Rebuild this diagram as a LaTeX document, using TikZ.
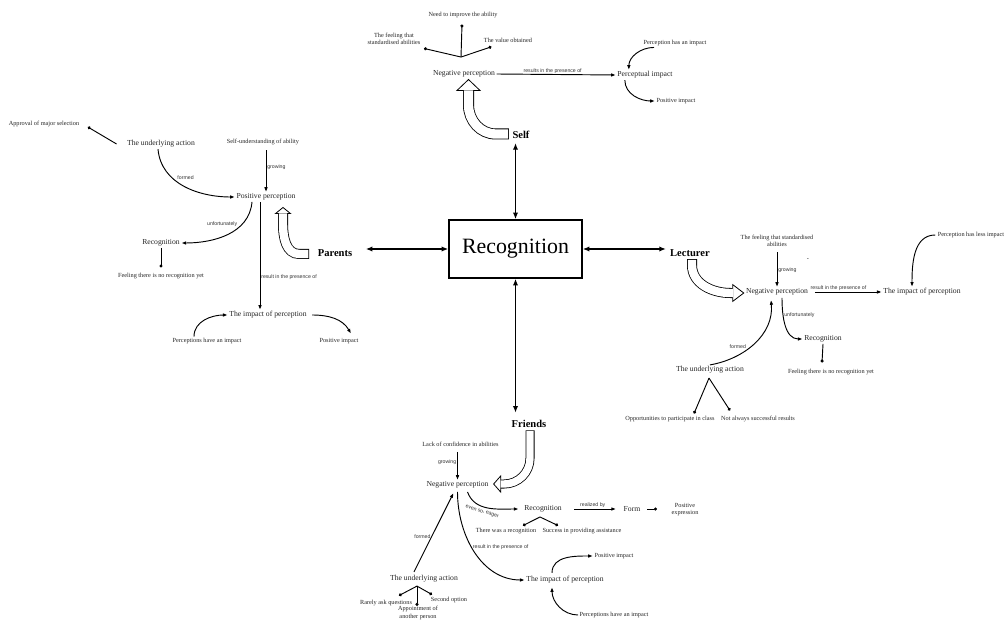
\documentclass[tikz,border=0pt]{standalone}
\usepackage{fontspec}
\setmainfont{Liberation Serif}
\newfontfamily\notefont{Liberation Sans}
\usetikzlibrary{arrows.meta,calc}

\begin{document}
\begin{tikzpicture}[x=0.75pt,y=-0.75pt,
  txt/.style={font=\fontsize{5.75}{6.6}\selectfont, inner sep=1pt, text=black!85},
  note/.style={font=\fontsize{4.7}{5.4}\selectfont, inner sep=1pt, align=center, text=black!85},
  tag/.style={font=\notefont\fontsize{3.9}{4.4}\selectfont, inner sep=0.6pt, text=black!80},
  hub/.style={font=\fontsize{7.9}{9}\selectfont\bfseries, inner sep=1pt},
  core/.style={draw, line width=1.1pt, minimum width=99.75pt, minimum height=43.5pt,
    font=\fontsize{16.4}{18}\selectfont, inner sep=0pt},
  link/.style={line width=0.7pt, -{Latex[length=3.6pt,width=2.7pt]}},
  dotlink/.style={line width=0.7pt, -{Circle[length=2.3pt]}},
  bond/.style={line width=1.1pt, {Latex[length=5pt,width=4pt]}-{Latex[length=5pt,width=4pt]}},
  % outlined block arrow: outer width, inner width, head length, head width, inner cut-back
  hollow/.style n args={5}{draw=black, line width=#1,
    -{Triangle[length=#3,width=#4,line width=0.6pt,fill=white]},
    postaction={draw=white, line width=#2, arrows=-, shorten <=0.6pt, shorten >=#5}},
]
\fill[white] (0,0) rectangle (1006,627);
\useasboundingbox (0,0) rectangle (1006,627);

% ---------- centre and the four sources ----------
\node[core] (core) at (515.5,249) {Recognition};
\node[hub] (selfh) at (521,135) {Self};
\node[hub] (parh) at (335,253) {Parents};
\node[hub] (lech) at (690,253) {Lecturer};
\node[hub] (frih) at (529,424) {Friends};

\draw[bond, shorten >=2pt] (core.north) -- (core.north |- selfh.south);
\draw[bond, shorten >=9pt] (core.west) -- (core.west -| parh.east);
\draw[bond, shorten >=2pt] (core.east) -- (core.east -| lech.west);
\draw[bond, shorten >=4.5pt] (core.south) -- (core.south |- frih.north);

% ---------- Self ----------
\node[txt] (negS) at (464,74) {Negative perception};
\node[note] (needS) at (463,15) {Need to improve the ability};
\node[note] (feelS) at (394,39) {The feeling that\\standardised abilities};
\node[note] (valS) at (508,40) {The value obtained};
\node[txt] (pimpS) at (645,75) {Perceptual impact};
\node[note] (hpiS) at (675,43) {Perception has an impact};
\node[note] (posS) at (676,101) {Positive impact};
\coordinate (jS) at ($(negS.north)+(-3,-12)$);

\draw[dotlink] (jS) -- ($(needS.south)+(-1,5)$);
\draw[dotlink] (jS) -- ($(feelS.south east)+(2,2)$);
\draw[dotlink] (jS) -- ($(valS.south west)+(9,3)$);
\draw[link] (negS.east) -- node[tag, above, pos=0.47]{results in the presence of} (pimpS.west);
\draw[link] ($(hpiS.south west)+(12,0)$) to[out=180,in=90] ($(pimpS.north west)+(13,0)$);
\draw[link] ($(pimpS.south west)+(9,0)$) to[out=-90,in=180] (posS.west);
\draw[hollow={8.25pt}{7pt}{9pt}{18.75pt}{8.6pt}]
  ($(selfh.west)+(-2,-1)$) -- ++(-13,0) to[out=180,in=-90] ($(negS.south)+(4.5,26)$)
  -- ($(negS.south)+(4.5,0)$);

% ---------- Parents ----------
\node[txt] (parPos) at (266,197) {Positive perception};
\node[note] (parSelf) at (263,142) {Self-understanding of ability};
\node[txt] (parUA) at (161,144) {The underlying action};
\node[note] (parAppr) at (44,124) {Approval of major selection};
\node[txt] (parRec) at (161,243) {Recognition};
\node[note] (parFeel) at (161,276) {Feeling there is no recognition yet};
\node[txt] (parImp) at (268,315) {The impact of perception};
\node[note] (parPHI) at (207,341) {Perceptions have an impact};
\node[note] (parPI) at (339,341) {Positive impact};

\draw[link, shorten <=3pt] (parPos.north |- parSelf.south) -- node[tag, right, pos=0.45]{growing} (parPos.north);
\draw[link] ($(parUA.south)+(-3,0)$) to[out=-85,in=180] node[tag, pos=0.4, above right]{formed} (parPos.west);
\draw[dotlink] ($(parUA.west)+(-9,0)$) -- ($(parAppr.east)+(7,3)$);
\draw[link] ($(parPos.south)+(-14,0)$) to[out=-95,in=0] node[tag, pos=0.35, above left]{unfortunately} (parRec.east);
\draw[dotlink] (parRec.south) -- ($(parFeel.north)+(0,-4)$);
\draw[link] ($(parPos.south)+(-6,0)$) -- node[tag, right, pos=0.7]{result in the presence of} ($(parImp.north)+(-8,0)$);
\draw[link] ($(parPHI.north)+(-13,0)$) to[out=90,in=180] (parImp.west);
\draw[link] ($(parImp.east)+(4,0)$) to[out=0,in=120] ($(parPI.north)+(12,-3)$);
\draw[hollow={7.5pt}{6.3pt}{5.25pt}{12.75pt}{4.9pt}]
  ($(parh.west)+(-7,1)$) -- ++(-10,0) to[out=180,in=-90] ($(parPos.south)+(17,22)$)
  -- ($(parPos.south)+(17,5)$);

% ---------- Lecturer ----------
\node[txt] (lecNeg) at (777,292) {Negative perception};
\node[note] (lecFeel) at (777,241) {The feeling that standardised\\abilities};
\node[txt] (lecImp) at (922,292) {The impact of perception};
\node[note] (lecLess) at (971,235) {Perception has less impact};
\node[txt] (lecRec) at (823,339) {Recognition};
\node[note] (lecFeel2) at (831,372) {Feeling there is no recognition yet};
\node[txt] (lecUA) at (710,370) {The underlying action};
\node[note] (lecOpp) at (670,419) {Opportunities to participate in class};
\node[note] (lecNot) at (758,419) {Not always successful results};
\node[note] (lecMark) at (808,260) {-};

\draw[link, shorten <=3pt] (lecFeel.south) -- node[tag, right, pos=0.55]{growing} (lecNeg.north);
\draw[link, shorten <=4pt] (lecNeg.east) -- node[tag, above, pos=0.4]{result in the presence of} (lecImp.west);
\draw[link] ($(lecLess.west)+(-1,0)$) to[out=180,in=90] ($(lecImp.north)+(-10,0)$);
\draw[link] ($(lecNeg.south)+(5,1)$) to[out=-90,in=180] node[tag, pos=0.3, right]{unfortunately} (lecRec.west);
\draw[dotlink] (lecRec.south) -- ($(lecFeel2.north)+(-9,-5)$);
\draw[link] (lecUA.north) to[out=10,in=-85] node[tag, pos=0.4, above left]{formed} ($(lecNeg.south)+(-6,3)$);
\coordinate (lecJ) at ($(lecUA.south)+(-1,3)$);
\draw[dotlink] (lecJ) -- ($(lecOpp.north)+(24,-1)$);
\draw[dotlink] (lecJ) -- ($(lecNot.north)+(-28,-4)$);
\draw[hollow={7.5pt}{6.3pt}{9pt}{13.5pt}{8.6pt}]
  ($(lech.south)+(2,1)$) -- ++(0,6) to[out=-90,in=180] ($(lecNeg.west)+(-14,1)$)
  -- ($(lecNeg.west)+(0,1)$);

% ---------- Friends ----------
\node[txt] (friNeg) at (457.5,485) {Negative perception};
\node[note] (friLack) at (460.5,444) {Lack of confidence in abilities};
\node[txt] (friRec) at (543,509) {Recognition};
\node[txt] (friForm) at (632,509) {Form};
\node[note] (friPosE) at (685,509.5) {Positive\\expression};
\node[note] (friThere) at (506,531) {There was a recognition};
\node[note] (friSucc) at (582,531) {Success in providing assistance};
\node[txt] (friImp) at (565,580) {The impact of perception};
\node[note] (friPosI) at (614,556) {Positive impact};
\node[note] (friPHI) at (614,615) {Perceptions have an impact};
\node[txt] (friUA) at (424,579) {The underlying action};
\node[note] (friRare) at (386,603) {Rarely ask questions};
\node[note] (friSec) at (449,600) {Second option};
\node[note] (friApp) at (418,613) {Appointment of\\another person};

\draw[link, shorten <=3pt] (friNeg.north |- friLack.south) -- node[tag, left, pos=0.45]{growing} (friNeg.north);
\draw[link] ($(friNeg.south)+(10,2)$) to[out=-70,in=180] node[tag, pos=0.42, below=1.5pt, sloped]{even so, eager} ($(friRec.west)+(-4,0)$);
\draw[link, shorten <=8pt, shorten >=4.5pt] (friRec.east) -- node[tag, above]{realized by} (friForm.west);
\draw[dotlink, shorten <=4pt] (friForm.east) -- ($(friPosE.west)+(-13,-0.5)$);
\coordinate (friJ) at ($(friRec.south)+(-3,3)$);
\draw[dotlink] (friJ) -- ($(friThere.north)+(17,-1)$);
\draw[dotlink] (friJ) -- ($(friSucc.north)+(-24,-1)$);
\draw[link] ($(friNeg.south)+(0,2)$) to[out=-90,in=180] node[tag, pos=0.45, right]{result in the presence of} (friImp.west);
\draw[link] ($(friImp.north)+(-13,-2)$) to[out=90,in=180] (friPosI.west);
\draw[link] (friPHI.west) to[out=180,in=-90] ($(friImp.south)+(-13,2)$);
\draw[link] ($(friUA.north)+(-10,-2)$) -- node[tag, pos=0.45, left]{formed} ($(friNeg.south)+(-4,3)$);
\coordinate (friJ2) at ($(friUA.south)+(-7,2)$);
\draw[dotlink] (friJ2) -- ($(friRare.north)+(13,-3)$);
\draw[dotlink] (friJ2) -- ($(friSec.north)+(-17,-1)$);
\draw[dotlink] (friJ2) -- ($(friApp.north)+(-1,1)$);
\draw[hollow={6.75pt}{5.55pt}{6pt}{13.5pt}{5.6pt}]
  ($(frih.south)+(1,1)$) -- ++(0,28) to[out=-90,in=0] ($(friNeg.east)+(14,-1)$)
  -- ($(friNeg.east)+(3,-1)$);
\end{tikzpicture}
\end{document}
